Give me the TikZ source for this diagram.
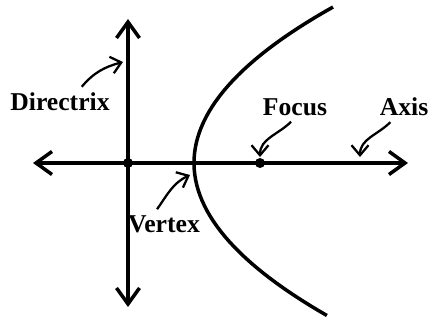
\documentclass[tikz,border=0pt]{standalone}
\usepackage{fontspec}
\setmainfont{Liberation Serif}
\usetikzlibrary{arrows.meta}

\begin{document}
\begin{tikzpicture}[every node/.style={font=\fontsize{14.6}{16}\selectfont\bfseries}, thick line/.style={line width=2pt}, both ways/.style={thick line, {Straight Barb[length=3.2mm, width=4.6mm]}-{Straight Barb[length=3.2mm, width=4.6mm]}}, ptr/.style={line width=1.3pt, -{Straight Barb[length=2mm, width=3.4mm]}}, dot/.style={circle, fill, inner sep=0pt, minimum size=2mm}]
	\useasboundingbox (-2.56,-3.16) rectangle (6.16,3.26);
	\coordinate (axL) at (-1.9,0);
	\coordinate (axR) at (5.6,0);
	\coordinate (dirT) at (0,2.88);
	\coordinate (dirB) at (0,-2.88);
	\draw[both ways] (axL) -- (axR);
	\draw[both ways] (dirB) -- (dirT);
	\draw[thick line] plot[domain=-3.05:3.12, samples=60] ({1.32+\x*\x/3.5},\x);
	\node[dot] (O) at (0,0) {};
	\node[dot] (F) at (2.64,0) {};
	\node (dirlab) at (-1.36,1.22) {Directrix};
	\node (vertlab) at (0.72,-1.22) {Vertex};
	\node (foclab) at (3.34,1.12) {Focus};
	\node (axlab) at (5.52,1.12) {Axis};
	\coordinate (dtip) at (-0.1,2.02);
	\coordinate (vtip) at (1.24,-0.24);
	\coordinate (ftip) at (2.64,0.12);
	\coordinate (atip) at (4.64,0.12);
	\draw[ptr] (dirlab.35) to[out=50, in=195] (dtip);
	\draw[ptr] (vertlab.115) to[out=55, in=205] (vtip);
	\draw[ptr] (foclab.255) to[out=225, in=90] (ftip);
	\draw[ptr] (axlab.228) to[out=225, in=90] (atip);
\end{tikzpicture}
\end{document}
